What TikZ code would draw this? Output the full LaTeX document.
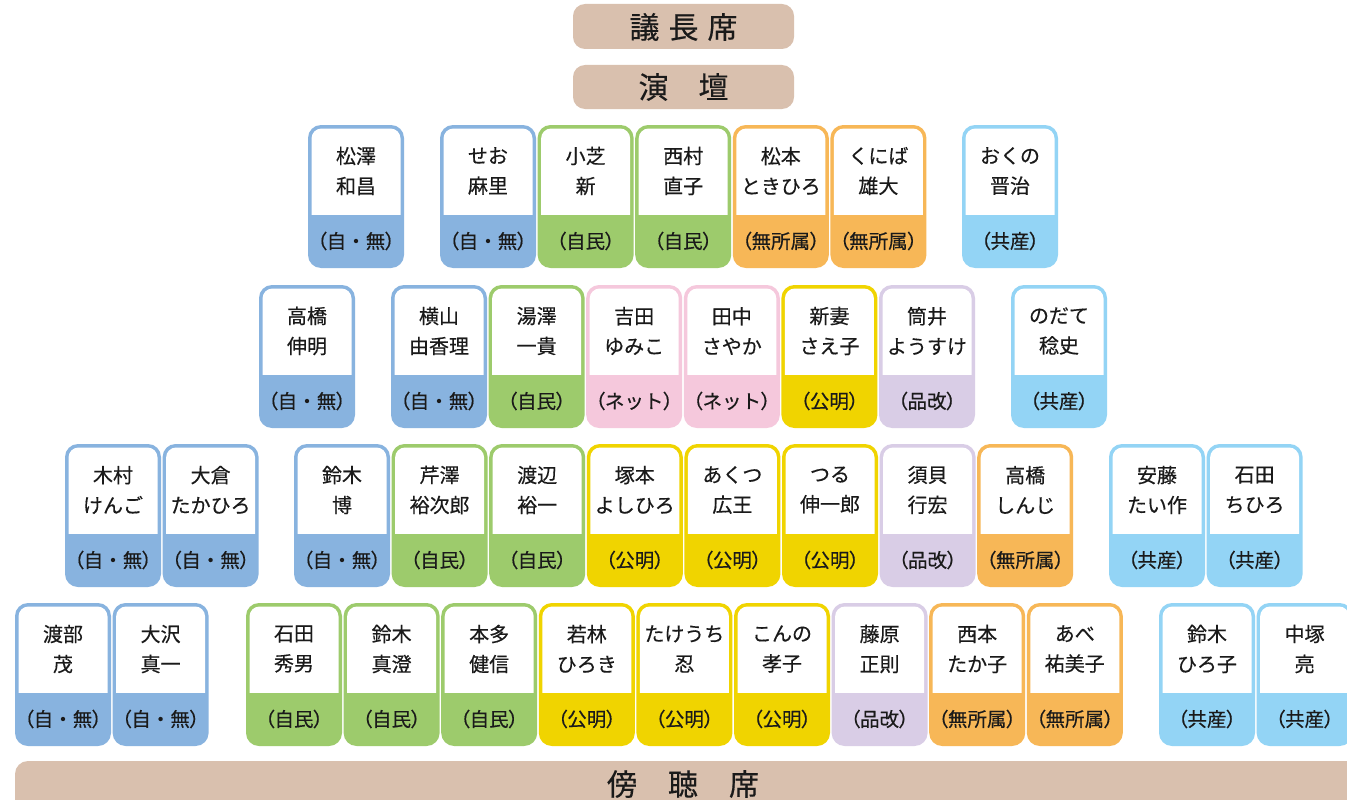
\documentclass[tikz,border=0pt]{standalone}
\usepackage{fontspec}
\newfontfamily\jp[FakeBold=0.4]{Noto Sans CJK JP}
\newfontfamily\jpp[FakeBold=0.4,RawFeature=+palt]{Noto Sans CJK JP}
\definecolor{cJM}{HTML}{88B3DF}
\definecolor{cJMN}{HTML}{9DCB6C}
\definecolor{cMU}{HTML}{F7B757}
\definecolor{cKY}{HTML}{93D4F5}
\definecolor{cNT}{HTML}{F5C8DC}
\definecolor{cKM}{HTML}{F0D400}
\definecolor{cHK}{HTML}{D9CDE6}
\definecolor{cBR}{HTML}{D9C0AE}
\definecolor{ink}{HTML}{1A1A1A}
\newcommand\lJM{（自{\jp ・}無）}
\newcommand\lJMN{（自民）}
\newcommand\lMU{（無所属）}
\newcommand\lKY{（共産）}
\newcommand\lNT{（{\jp ネット}）}
\newcommand\lKM{（公明）}
\newcommand\lHK{（品改）}
\tikzset{
  nametext/.style={inner sep=0pt, align=center, text=ink, font={\jp\fontsize{20}{30}\selectfont}},
  partytext/.style={inner sep=0pt, text=ink, font={\jpp\fontsize{19.5}{24}\selectfont}},
  hall/.style={inner sep=0pt, text=ink, font={\jp\fontsize{30}{36}\selectfont}},
}
% #1 name, #2 x, #3 y, #4 colour, #5 line1, #6 line2, #7 party label
\newcommand\seat[7]{%
  \fill[#4, rounded corners=13pt] (#2,#3) rectangle ++(96,143);
  \fill[white, rounded corners=10pt] (#2+3.5,#3+3.5) rectangle (#2+92.5,#3+110);
  \fill[#4] (#2+2,#3+90) rectangle (#2+94,#3+120);
  \node[nametext] (#1) at (#2+48,#3+46) {#5\\#6};
  \node[partytext] (#1p) at (#2+48,#3+116) {#7};
}
\begin{document}
\begin{tikzpicture}[x=1pt,y=-1pt]
\clip (0,0) rectangle (1347,800);
\fill[white] (0,0) rectangle (1347,800);
% podium
\fill[cBR, rounded corners=12pt] (573,4) rectangle (794,49);
\node[hall] (chair) at (683.5,27) {議\hspace{9pt}長\hspace{9pt}席};
\fill[cBR, rounded corners=12pt] (573,65) rectangle (794,109);
\node[hall] (podium) at (683.5,87) {演\hspace{30pt}壇};
% gallery
\fill[cBR, rounded corners=13pt] (15,761) rectangle (1400,850);
\node[hall] (gallery) at (683,784) {傍\hspace{31pt}聴\hspace{31pt}席};
% row 1
\seat{a1}{308}{125}{cJM}{松澤}{和昌}{\lJM}
\seat{a2}{440}{125}{cJM}{せお}{麻里}{\lJM}
\seat{a3}{537.6}{125}{cJMN}{小芝}{新}{\lJMN}
\seat{a4}{635.2}{125}{cJMN}{西村}{直子}{\lJMN}
\seat{a5}{732.8}{125}{cMU}{松本}{ときひろ}{\lMU}
\seat{a6}{830.4}{125}{cMU}{くにば}{雄大}{\lMU}
\seat{a7}{962}{125}{cKY}{おくの}{晋治}{\lKY}
% row 2
\seat{b1}{259}{285}{cJM}{高橋}{伸明}{\lJM}
\seat{b2}{391}{285}{cJM}{横山}{由香理}{\lJM}
\seat{b3}{488.6}{285}{cJMN}{湯澤}{一貴}{\lJMN}
\seat{b4}{586.2}{285}{cNT}{吉田}{ゆみこ}{\lNT}
\seat{b5}{683.8}{285}{cNT}{田中}{さやか}{\lNT}
\seat{b6}{781.4}{285}{cKM}{新妻}{さえ子}{\lKM}
\seat{b7}{879}{285}{cHK}{筒井}{ようすけ}{\lHK}
\seat{b8}{1011}{285}{cKY}{のだて}{稔史}{\lKY}
% row 3
\seat{c1}{65}{444}{cJM}{木村}{けんご}{\lJM}
\seat{c2}{162.6}{444}{cJM}{大倉}{たかひろ}{\lJM}
\seat{c3}{294}{444}{cJM}{鈴木}{博}{\lJM}
\seat{c4}{391.6}{444}{cJMN}{芹澤}{裕次郎}{\lJMN}
\seat{c5}{489.2}{444}{cJMN}{渡辺}{裕一}{\lJMN}
\seat{c6}{586.8}{444}{cKM}{塚本}{よしひろ}{\lKM}
\seat{c7}{684.4}{444}{cKM}{あくつ}{広王}{\lKM}
\seat{c8}{782}{444}{cKM}{つる}{伸一郎}{\lKM}
\seat{c9}{879.6}{444}{cHK}{須貝}{行宏}{\lHK}
\seat{c10}{977.2}{444}{cMU}{高橋}{しんじ}{\lMU}
\seat{c11}{1109}{444}{cKY}{安藤}{たい作}{\lKY}
\seat{c12}{1206.6}{444}{cKY}{石田}{ちひろ}{\lKY}
% row 4
\seat{d1}{15}{603}{cJM}{渡部}{茂}{\lJM}
\seat{d2}{112.6}{603}{cJM}{大沢}{真一}{\lJM}
\seat{d3}{246}{603}{cJMN}{石田}{秀男}{\lJMN}
\seat{d4}{343.6}{603}{cJMN}{鈴木}{真澄}{\lJMN}
\seat{d5}{441.2}{603}{cJMN}{本多}{健信}{\lJMN}
\seat{d6}{538.8}{603}{cKM}{若林}{ひろき}{\lKM}
\seat{d7}{636.4}{603}{cKM}{たけうち}{忍}{\lKM}
\seat{d8}{734}{603}{cKM}{こんの}{孝子}{\lKM}
\seat{d9}{831.6}{603}{cHK}{藤原}{正則}{\lHK}
\seat{d10}{929.2}{603}{cMU}{西本}{たか子}{\lMU}
\seat{d11}{1026.8}{603}{cMU}{あべ}{祐美子}{\lMU}
\seat{d12}{1159}{603}{cKY}{鈴木}{ひろ子}{\lKY}
\seat{d13}{1256.6}{603}{cKY}{中塚}{亮}{\lKY}
\end{tikzpicture}
\end{document}
